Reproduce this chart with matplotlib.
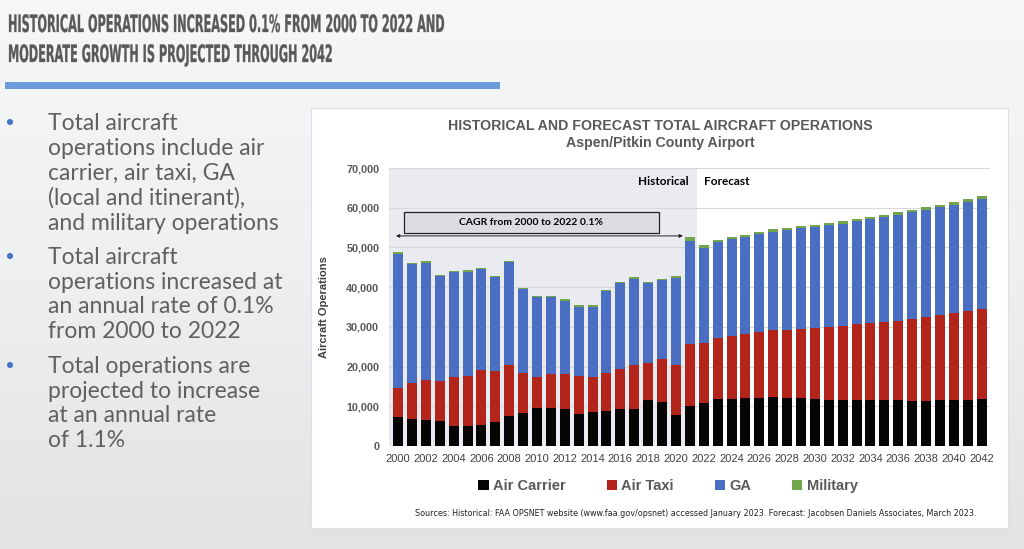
import numpy as np
import matplotlib
matplotlib.use("Agg")
import matplotlib.pyplot as plt
from matplotlib.patches import Rectangle, Circle, PathPatch
from matplotlib.textpath import TextPath
from matplotlib.font_manager import FontProperties
from matplotlib.transforms import Affine2D

# data (operations per year)
years = list(range(2000, 2043))
air_carrier = [7400, 6700, 6600, 6300, 5000, 5000, 5200, 6100, 7600, 8200,
               9600, 9500, 9300, 8100, 8500, 8800, 9200, 9400, 11500, 11100,
               7900, 10000, 10800, 11800, 11900, 12000, 12200, 12400, 12100, 12000,
               11800, 11700, 11600, 11600, 11500, 11500, 11500, 11400, 11400, 11500,
               11600, 11700, 11800]
air_taxi_top = [14600, 15800, 16700, 16400, 17500, 17600, 19200, 18900, 20400, 18500,
                17400, 18200, 18100, 17600, 17400, 18500, 19400, 20300, 21000, 21800,
                20400, 25700, 26000, 27100, 27700, 28100, 28600, 29100, 29300, 29500,
                29700, 29900, 30200, 30600, 30900, 31300, 31600, 31900, 32400, 32900,
                33400, 33900, 34400]
ga_top = [48400, 45800, 46200, 42700, 43800, 43900, 44500, 42500, 46400, 39600,
          37500, 37500, 36600, 35100, 35100, 39000, 41000, 42100, 41000, 41800,
          42300, 51600, 49900, 51300, 52000, 52600, 53300, 54000, 54400, 54800,
          55100, 55600, 56000, 56600, 57100, 57600, 58200, 58800, 59400, 60100,
          60800, 61500, 62300]
total = [48900, 46100, 46600, 43000, 44100, 44400, 44900, 42900, 46700, 39900,
         37700, 37700, 37000, 35500, 35500, 39300, 41400, 42600, 41300, 42100,
         42900, 52700, 50500, 51900, 52600, 53200, 53900, 54600, 55000, 55400,
         55700, 56200, 56600, 57100, 57700, 58200, 58900, 59500, 60100, 60800,
         61400, 62200, 62900]

air_taxi = np.array(air_taxi_top) - np.array(air_carrier)
ga = np.array(ga_top) - np.array(air_taxi_top)
military = np.array(total) - np.array(ga_top)

series_names = ['Air Carrier', 'Air Taxi', 'GA', 'Military']
colors = ['#050505', '#b3241a', '#4a6fc2', '#72a44c']

title_lines = ["HISTORICAL OPERATIONS INCREASED 0.1% FROM 2000 TO 2022 AND",
               "MODERATE GROWTH IS PROJECTED THROUGH 2042"]
bullets = [
    "Total aircraft\noperations include air\ncarrier, air taxi, GA\n(local and itinerant),\nand military operations",
    "Total aircraft\noperations increased at\nan annual rate of 0.1%\nfrom 2000 to 2022",
    "Total operations are\nprojected to increase\nat an annual rate\nof 1.1%",
]

W, H = 1024, 549
fig = plt.figure(figsize=(W / 100, H / 100), dpi=100)

# faded background
bg = fig.add_axes([0, 0, 1, 1])
grad = np.linspace(0, 1, 200)[:, None] * np.ones((1, 10))
bg.imshow(grad, cmap=matplotlib.colors.LinearSegmentedColormap.from_list(
    'bg', ['#f6f7f9', '#eeeff1', '#e4e3e3']), aspect='auto', extent=[0, W, H, 0])
bg.set_xlim(0, W)
bg.set_ylim(H, 0)
bg.axis('off')

# slide title, squeezed sideways like a condensed font
fp = FontProperties(family='DejaVu Sans', weight='bold')
cap = TextPath((0, 0), "H", size=100, prop=fp).get_extents().height
w1 = TextPath((0, 0), title_lines[0], size=100, prop=fp).get_extents().width
sy = 17.5 / cap
sx = 435.0 / w1
for line, base in zip(title_lines, [32, 62]):
    tp = TextPath((0, 0), line, size=100, prop=fp)
    tr = Affine2D().scale(sx, -sy).translate(8, base) + bg.transData
    bg.add_patch(PathPatch(tp, facecolor='#595959', edgecolor='#595959', lw=0.2, transform=tr))
bg.add_patch(Rectangle((5, 82), 495, 7, color='#6b9bd8', lw=0))

# bullets
bullet_y = [122, 256, 365]
for by, txt in zip(bullet_y, bullets):
    bg.add_patch(Circle((10, by), 2.3, color='#4472c4'))
    bg.text(48, by - 9, txt, fontsize=16.5, color='#606060', va='top', ha='left',
            linespacing=1.22, family='Lato')

# chart panel
bg.add_patch(Rectangle((311, 108), 697, 420, facecolor='white', edgecolor='#e0e0e0', lw=0.8))
bg.text(660, 126, "HISTORICAL AND FORECAST TOTAL AIRCRAFT OPERATIONS",
        fontsize=10.2, fontweight='bold', color='#595959', ha='center', va='center',
        family='Liberation Sans')
bg.text(660, 143, "Aspen/Pitkin County Airport",
        fontsize=10.2, fontweight='bold', color='#595959', ha='center', va='center',
        family='Liberation Sans')
bg.text(696, 513, "Sources: Historical: FAA OPSNET website (www.faa.gov/opsnet) accessed January 2023. "
        "Forecast: Jacobsen Daniels Associates, March 2023.",
        fontsize=5.75, color='#222222', ha='center', va='center', family='DejaVu Sans')

# main chart axes
ax = fig.add_axes([389 / W, 1 - 446 / H, (990 - 389) / W, (446 - 168) / H])
x = np.arange(len(years))
ax.axvspan(-0.65, 21.5, color='#e9ebf1', lw=0, zorder=0)
for v in range(10000, 70001, 10000):
    ax.axhline(v, color='#d9d9d9', lw=0.8, zorder=1)

bottom = np.zeros(len(years))
for name, vals, c in zip(series_names, [air_carrier, air_taxi, ga, military], colors):
    ax.bar(x, vals, 0.72, bottom=bottom, color=c, label=name, zorder=2)
    bottom = bottom + np.array(vals)

ax.set_xlim(-0.65, 42.6)
ax.set_ylim(0, 70000)
ax.set_yticks(range(0, 70001, 10000))
ax.set_yticklabels([f"{v:,}" for v in range(0, 70001, 10000)], fontsize=7.8,
                   fontweight='bold', color='#595959', family='Liberation Sans')
ax.set_xticks(x[::2])
ax.set_xticklabels([str(y) for y in years[::2]], fontsize=8, color='#404040',
                   family='Liberation Sans')
ax.tick_params(length=0, pad=6)
ax.tick_params(axis='y', pad=7)
for s in ax.spines.values():
    s.set_visible(False)
ax.set_ylabel("Aircraft Operations", fontsize=8, fontweight='bold', color='#404040',
              family='Liberation Sans', labelpad=12)

ax.text(20.9, 66600, "Historical", fontsize=8.5, fontweight='bold', ha='right', va='center',
        family='Lato', color='black')
ax.text(22.0, 66500, "Forecast", fontsize=8.5, fontweight='bold', ha='left', va='center',
        family='Lato', color='black')
ax.add_patch(Rectangle((0.45, 53600), 18.35, 5300, facecolor='#dcdde2', edgecolor='#222222',
                       lw=0.9, zorder=3))
ax.text(9.6, 56250, "CAGR from 2000 to 2022 0.1%", fontsize=7.5, fontweight='bold',
        ha='center', va='center', family='Lato', zorder=4)
ax.annotate('', xy=(20.7, 52900), xytext=(-0.35, 52900),
            arrowprops=dict(arrowstyle='<|-|>', color='#222222', lw=0.7,
                            mutation_scale=5), zorder=4)

# legend
leg = fig.legend(*ax.get_legend_handles_labels(), loc='center', ncol=4,
                 bbox_to_anchor=(668 / W, 1 - 486 / H), frameon=False,
                 handlelength=0.7, handleheight=0.7, handletextpad=0.3, columnspacing=2.8,
                 prop={'family': 'Liberation Sans', 'weight': 'bold', 'size': 10.5})
for t in leg.get_texts():
    t.set_color('#595959')

fig.savefig("out.png", dpi=100)
